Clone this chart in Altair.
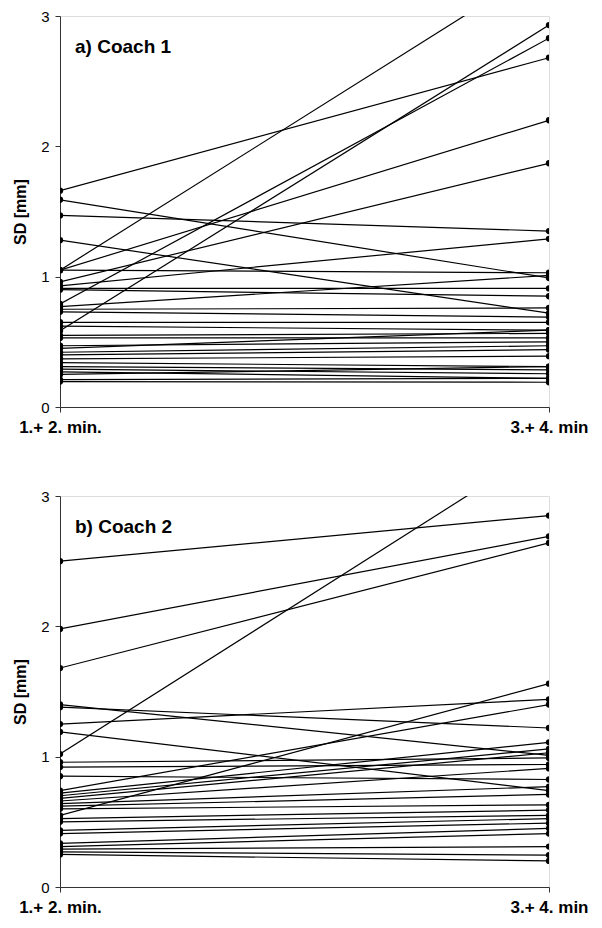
import altair as alt
import pandas as pd

# Coach 1: SD at "1.+ 2. min." (start) and "3.+ 4. min" (end), one pair per subject
coach1_start = [1.66, 1.59, 1.47, 1.28, 1.05, 1.05, 1.05, 0.96, 0.93, 0.91, 0.90,
                0.79, 0.585, 0.77, 0.75, 0.73, 0.65, 0.62, 0.55, 0.53, 0.47, 0.45,
                0.42, 0.40, 0.37, 0.34, 0.31, 0.29, 0.27, 0.25, 0.195, 0.21]
coach1_end = [2.68, 0.99, 1.35, 0.72, 3.41, 2.20, 1.03, 1.87, 1.29, 0.91, 0.85,
              2.83, 2.93, 1.01, 0.76, 0.69, 0.65, 0.59, 0.565, 0.53, 0.50, 0.59,
              0.47, 0.44, 0.39, 0.31, 0.285, 0.255, 0.22, 0.31, 0.19, 0.22]

# Coach 2
coach2_start = [2.50, 1.98, 1.68, 1.40, 1.38, 1.25, 1.19, 1.02, 0.957, 0.92, 0.85,
                0.74, 0.72, 0.70, 0.68, 0.66, 0.64, 0.62, 0.60, 0.55, 0.525, 0.50,
                0.435, 0.41, 0.335, 0.31, 0.29, 0.27, 0.25]
coach2_end = [2.85, 2.69, 2.64, 1.01, 1.22, 1.44, 0.74, 3.40, 0.99, 0.94, 0.825,
              1.40, 1.11, 1.06, 1.03, 0.91, 0.77, 0.71, 0.63, 1.56, 0.59, 0.55,
              0.525, 0.49, 0.45, 0.41, 0.31, 0.245, 0.20]

time_labels = ["1.+ 2. min.", "3.+ 4. min"]
panel_titles = ["a) Coach 1", "b) Coach 2"]
y_ticks = [0, 1, 2, 3]

FONT = "Liberation Sans"


def long_frame(start, end):
    rows = []
    for i, (s, e) in enumerate(zip(start, end)):
        rows.append({"id": i, "t": 0, "sd": s})
        rows.append({"id": i, "t": 1, "sd": e})
    return pd.DataFrame(rows)


label_expr = ("datum.value == 0 ? '%s' : '%s'" % (time_labels[0], time_labels[1]))


def panel(start, end, title):
    df = long_frame(start, end)
    x = alt.X("t:Q", scale=alt.Scale(domain=[0, 1], nice=False),
              axis=alt.Axis(values=[0, 1], labelExpr=label_expr, title=None,
                            grid=False, tickSize=5, labelFont=FONT,
                            labelFontWeight="bold", labelFontSize=17,
                            labelColor="black", labelPadding=7,
                            domainColor="#333", tickColor="#333",
                            labelAlign="center", labelFlush=False))
    y = alt.Y("sd:Q", scale=alt.Scale(domain=[0, 3], nice=False),
              axis=alt.Axis(values=y_ticks, format="d", title="SD [mm]", grid=False,
                            tickSize=5, labelFont=FONT, labelFontSize=15,
                            labelColor="black", titleFont=FONT,
                            titleFontSize=16, titleFontWeight="bold",
                            titleColor="black", titlePadding=12,
                            domainColor="#333", tickColor="#333",
                            labelPadding=6))
    base = alt.Chart(df)
    lines = base.mark_line(color="black", strokeWidth=1.2, clip=True).encode(
        x=x, y=y, detail="id:N")
    pts = base.mark_circle(color="black", size=40, opacity=1, clip=True).encode(
        x="t:Q", y="sd:Q")
    txt = alt.Chart(pd.DataFrame({"label": [title]})).mark_text(
        font=FONT, fontSize=19, fontWeight="bold", align="left",
        baseline="middle", color="black").encode(
        text="label:N", x=alt.value(15), y=alt.value(31))
    return alt.layer(lines, pts, txt).properties(width=489, height=391)


chart = alt.vconcat(
    panel(coach1_start, coach1_end, panel_titles[0]),
    panel(coach2_start, coach2_end, panel_titles[1]),
    spacing=52,
).properties(
    padding={"left": 4, "top": 0, "right": 0, "bottom": 0}
).configure_view(stroke=None).configure(background="white")

chart.save("out.html", embed_options={"renderer": "svg", "actions": False})
